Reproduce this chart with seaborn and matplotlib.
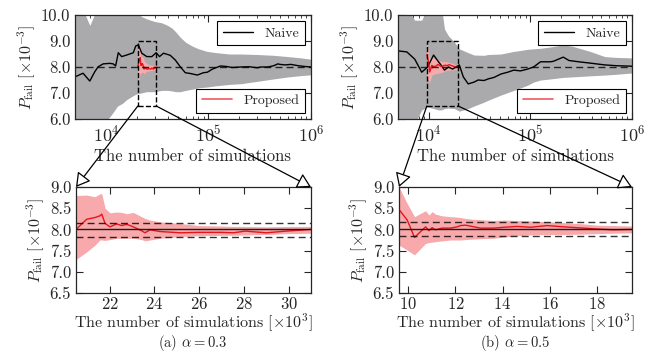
import numpy as np
import seaborn as sns
import matplotlib
matplotlib.use("Agg")
import matplotlib.pyplot as plt
from matplotlib.patches import Rectangle, ConnectionPatch
from matplotlib.ticker import FormatStrFormatter, MultipleLocator

# ---- data ----
# (a) alpha = 0.3, naive estimator
naive_a_x = [5000, 5990, 6970, 7800, 8410, 9410, 10940, 11790, 12450, 13210, 14260,
             15960, 18530, 19550, 20750, 22390, 25060, 28070, 30920, 33340, 36490,
             42400, 47460, 53100, 59500, 66600, 78000, 89300, 97700, 109400, 131100,
             150000, 170000, 206000, 250000, 300000, 323000, 380000, 434000, 475000,
             500000, 560000, 636000, 750000, 870000, 1000000]
naive_a_y = [7.62, 7.76, 7.46, 7.82, 8.01, 8.12, 8.14, 8.12, 8.04, 8.55, 8.40,
             8.46, 8.55, 8.81, 8.85, 8.53, 8.40, 8.40, 8.55, 8.40, 8.53,
             8.45, 8.27, 8.01, 7.78, 7.75, 7.69, 7.78, 7.80, 7.92, 8.04,
             8.02, 7.98, 8.00, 8.01, 7.97, 8.00, 8.00, 8.05, 8.12,
             8.10, 8.08, 8.10, 8.05, 8.02, 8.00]
band_a_x = [5000, 5900, 6300, 6970, 7700, 8500, 10000, 11000, 12000, 13000, 14500,
            16000, 18500, 19500, 22000, 25000, 30000, 35000, 40000, 44000, 48000,
            53000, 60000, 70000, 80000, 97000, 120000, 160000, 210000, 300000,
            430000, 600000, 800000, 1000000]
band_a_hi = [10.3, 10.3, 10.0, 9.6, 10.0, 10.3, 10.3, 10.3, 10.3, 10.3, 10.3,
             10.3, 10.3, 10.3, 9.95, 9.85, 9.75, 9.7, 9.6, 9.5, 9.35,
             9.15, 8.95, 8.8, 8.7, 8.6, 8.55, 8.5, 8.5, 8.48,
             8.45, 8.4, 8.35, 8.3]
band_a_lo = [5.8, 5.8, 5.8, 5.8, 5.8, 5.8, 5.9, 6.1, 6.3, 6.5, 6.6,
             6.75, 6.9, 6.95, 7.0, 7.05, 7.05, 7.1, 7.1, 7.08, 7.05,
             7.05, 7.1, 7.15, 7.2, 7.23, 7.28, 7.33, 7.36, 7.45,
             7.54, 7.62, 7.67, 7.7]

# (a) proposed estimator, x in thousands of simulations
prop_a_x = [20.5, 20.98, 21.35, 21.57, 21.65, 21.80, 22.02, 22.32, 22.54, 22.77,
            23.06, 23.43, 23.58, 23.81, 24.25, 25.15, 26.0, 27.0, 27.53, 28.06,
            29.0, 29.9, 31.0]
prop_a_y = [8.0, 8.24, 8.28, 8.32, 8.36, 8.14, 8.06, 8.13, 8.09, 8.12,
            8.06, 7.97, 7.92, 7.99, 7.95, 7.92, 7.93, 7.93, 7.92, 7.96,
            7.92, 7.96, 8.0]
prop_a_hi = [8.8, 8.81, 8.77, 8.84, 8.84, 8.5, 8.39, 8.41, 8.40, 8.37,
             8.40, 8.30, 8.26, 8.22, 8.18, 8.14, 8.09, 8.08, 8.07, 8.07,
             8.06, 8.07, 8.07]
prop_a_lo = [7.29, 7.47, 7.63, 7.75, 7.75, 7.74, 7.76, 7.79, 7.79, 7.79,
             7.79, 7.76, 7.73, 7.75, 7.79, 7.83, 7.85, 7.86, 7.86, 7.87,
             7.88, 7.90, 7.91]
sigma_a = [7.81, 8.16]

# (b) alpha = 0.5, naive estimator
naive_b_x = [5000, 6110, 7310, 8550, 9780, 11190, 12510, 13390, 14330, 15670, 17200,
             20040, 21930, 24510, 28040, 30690, 35100, 38400, 44000, 51400, 60000,
             68800, 80000, 94100, 107700, 126000, 157700, 168800, 211000, 240000,
             300000, 386600, 541000, 700000, 1000000]
naive_b_y = [8.62, 8.58, 8.30, 7.80, 8.00, 8.46, 8.20, 8.05, 7.88, 8.00, 7.92,
             8.08, 7.62, 7.35, 7.42, 7.50, 7.48, 7.54, 7.60, 7.73, 7.80,
             7.88, 7.85, 7.92, 8.00, 8.20, 8.20, 8.22, 8.38, 8.25,
             8.20, 8.15, 8.08, 8.05, 8.03]
band_b_x = [5000, 6100, 7300, 8550, 9780, 11190, 12510, 13390, 14330, 15670, 17910,
            20040, 24510, 28040, 35100, 38400, 51400, 68800, 75200, 94100, 107700,
            126000, 157700, 211000, 258400, 386600, 541000, 700000, 1000000]
band_b_hi = [10.3, 10.3, 9.8, 9.8, 10.3, 10.3, 10.3, 10.3, 9.46, 9.2, 8.96,
             8.7, 8.55, 8.46, 8.45, 8.48, 8.5, 8.6, 8.62, 8.68, 8.7,
             8.72, 8.77, 8.85, 8.8, 8.6, 8.4, 8.37, 8.35]
band_b_lo = [5.8, 5.8, 5.8, 6.35, 6.46, 6.4, 6.35, 6.35, 6.4, 6.42, 6.4,
             6.3, 6.4, 6.5, 6.65, 6.72, 6.92, 7.1, 7.15, 7.3, 7.42,
             7.5, 7.54, 7.6, 7.62, 7.66, 7.69, 7.72, 7.77]

# (b) proposed estimator, x in thousands of simulations
prop_b_x = [9.6, 9.95, 10.26, 10.52, 10.73, 10.87, 11.01, 11.15, 11.43, 11.79,
            12.07, 12.21, 12.42, 12.70, 13.06, 13.62, 14.05, 14.62, 15.18, 15.89,
            16.6, 17.44, 18.0, 18.7, 19.5]
prop_b_y = [8.47, 8.22, 7.81, 7.95, 8.06, 7.97, 8.04, 7.99, 8.03, 8.03,
            8.06, 8.09, 8.10, 8.07, 8.03, 8.03, 8.05, 8.07, 8.05, 8.09,
            8.06, 8.03, 8.01, 7.99, 8.0]
prop_b_hi = [9.0, 8.61, 8.30, 8.38, 8.44, 8.34, 8.42, 8.36, 8.32, 8.30,
             8.29, 8.28, 8.26, 8.24, 8.23, 8.21, 8.22, 8.21, 8.20, 8.18,
             8.16, 8.13, 8.10, 8.09, 8.08]
prop_b_lo = [7.63, 7.51, 7.40, 7.55, 7.67, 7.69, 7.70, 7.71, 7.73, 7.75,
             7.75, 7.75, 7.76, 7.77, 7.78, 7.79, 7.82, 7.85, 7.87, 7.88,
             7.88, 7.89, 7.90, 7.91, 7.92]
sigma_b = [7.84, 8.18]

true_value = 8.0
panels = [
    dict(nx=naive_a_x, ny=naive_a_y, bx=band_a_x, bhi=band_a_hi, blo=band_a_lo,
         px=prop_a_x, py=prop_a_y, phi=prop_a_hi, plo=prop_a_lo, sig=sigma_a,
         zoom=(20.5, 31.0), ticks=[22, 24, 26, 28, 30], cap=r"(a) $\alpha = 0.3$"),
    dict(nx=naive_b_x, ny=naive_b_y, bx=band_b_x, bhi=band_b_hi, blo=band_b_lo,
         px=prop_b_x, py=prop_b_y, phi=prop_b_hi, plo=prop_b_lo, sig=sigma_b,
         zoom=(9.6, 19.5), ticks=[10, 12, 14, 16, 18], cap=r"(b) $\alpha = 0.5$"),
]

# ---- style ----
sns.set_style("ticks", {"xtick.direction": "in", "ytick.direction": "in",
                        "xtick.top": True, "ytick.right": True})
plt.rcParams["font.family"] = ["cmr10", "DejaVu Serif"]
plt.rcParams["mathtext.fontset"] = "cm"
plt.rcParams["axes.formatter.use_mathtext"] = True
plt.rcParams["axes.unicode_minus"] = False

GRAY = "#aaaaac"
RED = "#e8141c"
PINK = "#f7a9ab"
FS = 12

fig = plt.figure(figsize=(6.54, 3.52), dpi=100)
W, H = 654, 352
lefts = [75, 398]
widths = [236, 234]

for i, p in enumerate(panels):
    ax_t = fig.add_axes([lefts[i] / W, 1 - 119 / H, widths[i] / W, 104 / H])
    ax_b = fig.add_axes([(lefts[i] + 1) / W, 1 - 293 / H, (widths[i] - 1) / W, 106 / H])

    # top: naive over the whole range
    ax_t.fill_between(p["bx"], p["blo"], p["bhi"], color=GRAY, lw=0)
    sns.lineplot(x=p["nx"], y=p["ny"], ax=ax_t, color="black", lw=1.0,
                 label="Naive", estimator=None, sort=False)
    px_full = np.array(p["px"]) * 1000
    ax_t.fill_between(px_full, p["plo"], p["phi"], color=PINK, lw=0)
    sns.lineplot(x=px_full, y=p["py"], ax=ax_t, color=RED, lw=1.0,
                 label="Proposed", estimator=None, sort=False)
    ax_t.axhline(true_value, color="black", ls="--", dashes=(5, 3), lw=1.0, alpha=0.8)
    z0, z1 = p["zoom"][0] * 1000, p["zoom"][1] * 1000
    ax_t.add_patch(Rectangle((z0, 6.5), z1 - z0, 2.5, fill=False, ec="black",
                             ls="--", lw=1.0, zorder=5))
    ax_t.set_xscale("log")
    ax_t.set_xlim(5000, 1e6)
    ax_t.set_ylim(6.0, 10.0)
    ax_t.set_yticks([6, 7, 8, 9, 10])
    ax_t.yaxis.set_major_formatter(FormatStrFormatter("%.1f"))
    ax_t.tick_params(which="major", length=5, labelsize=FS + 1)
    ax_t.tick_params(axis="y", labelsize=FS)
    ax_t.tick_params(which="minor", length=2.5)
    ax_t.set_xlabel("The number of simulations", fontsize=FS, labelpad=3)
    ax_t.set_ylabel(r"$P_{\rm fail}$ [$\times 10^{-3}$]", fontsize=FS - 0.5, labelpad=2)

    handles, labels = ax_t.get_legend_handles_labels()
    ax_t.legend_.remove()
    leg1 = ax_t.legend([handles[0]], [labels[0]], loc="upper right", fontsize=FS - 2,
                       fancybox=False, edgecolor="black", framealpha=1,
                       borderaxespad=0.45, handlelength=2.2)
    leg1.get_frame().set_linewidth(0.8)
    ax_t.add_artist(leg1)
    h2 = plt.Line2D([], [], color="#f05a5f", lw=1.2)
    leg2 = ax_t.legend([h2], [labels[1]], loc="lower right", fontsize=FS - 2,
                       fancybox=False, edgecolor="black", framealpha=1,
                       borderaxespad=0.45, handlelength=2.2)
    leg2.get_frame().set_linewidth(0.8)
    for s in ax_t.spines.values():
        s.set_linewidth(0.9)

    # bottom: zoomed view of the proposed estimator
    ax_b.fill_between(p["px"], p["plo"], p["phi"], color=PINK, lw=0)
    sns.lineplot(x=p["px"], y=p["py"], ax=ax_b, color=RED, lw=1.0,
                 estimator=None, sort=False)
    ax_b.axhline(true_value, color="black", lw=1.0, alpha=0.85)
    for s_val in p["sig"]:
        ax_b.axhline(s_val, color="black", ls="--", dashes=(5, 3), lw=1.0, alpha=0.8)
    ax_b.set_xlim(*p["zoom"])
    ax_b.set_ylim(6.5, 9.0)
    ax_b.set_xticks(p["ticks"])
    ax_b.yaxis.set_major_locator(MultipleLocator(0.5))
    ax_b.yaxis.set_major_formatter(FormatStrFormatter("%.1f"))
    ax_b.tick_params(length=5, labelsize=FS)
    ax_b.tick_params(axis="x", pad=2)
    ax_b.set_xlabel(r"The number of simulations [$\times 10^3$]", fontsize=FS - 0.5,
                    labelpad=0)
    ax_b.set_ylabel(r"$P_{\rm fail}$ [$\times 10^{-3}$]", fontsize=FS - 0.5, labelpad=2)
    for s in ax_b.spines.values():
        s.set_linewidth(0.9)
    fig.text((lefts[i] + widths[i] / 2) / W, 1 - 343 / H, p["cap"], ha="center",
             va="center", fontsize=FS - 1.5)

    # arrows from the zoom box to the lower panel
    for xa, xb in [(z0, 0.0), (z1, 1.0)]:
        con = ConnectionPatch(xyA=(xa, 6.5), coordsA=ax_t.transData,
                              xyB=(xb, 1.0), coordsB=ax_b.transAxes,
                              arrowstyle="-|>,head_length=0.6,head_width=0.35",
                              mutation_scale=14, fc="white", ec="black", lw=0.9)
        fig.add_artist(con)

fig.savefig("out.png", dpi=100)
